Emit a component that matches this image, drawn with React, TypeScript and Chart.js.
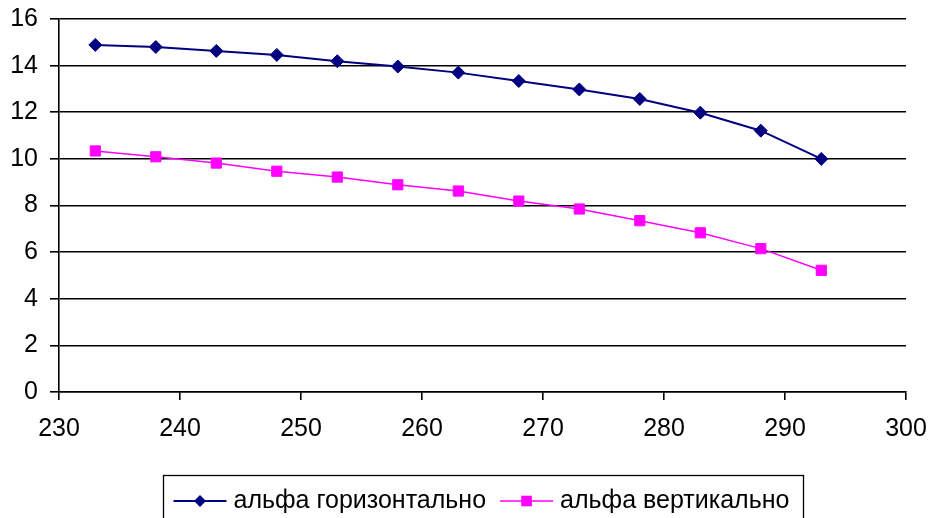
import React, { useEffect, useRef } from 'react';
import { Chart, registerables } from 'chart.js';

Chart.register(...registerables);

const temperatures = [233, 238, 243, 248, 253, 258, 263, 268, 273, 278, 283, 288, 293];
const alphaHorizontal = [14.89, 14.8, 14.63, 14.46, 14.19, 13.96, 13.7, 13.34, 12.98, 12.57, 11.98, 11.21, 10.0];
const alphaVertical = [10.34, 10.09, 9.82, 9.47, 9.22, 8.89, 8.62, 8.19, 7.85, 7.35, 6.83, 6.15, 5.22];
const seriesLabels = ['альфа горизонтально', 'альфа вертикально'];
const seriesColors = ['#000080', '#FF00FF'];
const xMin = 230;
const xMax = 300;
const xStep = 10;
const yMin = 0;
const yMax = 16;
const yStep = 2;

const FONT = '"Liberation Sans", Arial, sans-serif';

const boxedLegend = {
  id: 'boxedLegend',
  afterDraw(chart: any) {
    const ctx = chart.ctx as CanvasRenderingContext2D;
    ctx.save();
    ctx.font = `25px ${FONT}`;
    const sampleW = 53;
    const gapAfterSample = 7;
    const itemGap = 14;
    const padL = 10;
    const padR = 14;
    const widths = seriesLabels.map((t) => ctx.measureText(t).width);
    const total = padL + padR + widths.reduce((a, w) => a + sampleW + gapAfterSample + w, 0) + itemGap * (seriesLabels.length - 1);
    const left = 163.5;
    const top = 475.5;
    ctx.strokeStyle = '#000';
    ctx.lineWidth = 1.3;
    ctx.strokeRect(left, top, Math.round(total), 60);
    const cy = 501;
    let x = left + padL;
    seriesLabels.forEach((label, i) => {
      const color = seriesColors[i];
      ctx.strokeStyle = color;
      ctx.lineWidth = i === 0 ? 2 : 1.5;
      ctx.beginPath();
      ctx.moveTo(x, cy);
      ctx.lineTo(x + sampleW, cy);
      ctx.stroke();
      const mx = x + sampleW / 2;
      ctx.fillStyle = color;
      ctx.beginPath();
      if (i === 0) {
        const r = 6;
        ctx.moveTo(mx - r, cy);
        ctx.lineTo(mx, cy - r);
        ctx.lineTo(mx + r, cy);
        ctx.lineTo(mx, cy + r);
        ctx.closePath();
      } else {
        const s = 5.3;
        ctx.rect(mx - s, cy - s, 2 * s, 2 * s);
      }
      ctx.fill();
      x += sampleW + gapAfterSample;
      ctx.fillStyle = '#000';
      ctx.textBaseline = 'middle';
      ctx.textAlign = 'left';
      ctx.fillText(label, x, cy);
      x += widths[i] + itemGap;
    });
    ctx.restore();
  },
};

export default function App() {
  const canvasRef = useRef<HTMLCanvasElement | null>(null);

  useEffect(() => {
    const canvas = canvasRef.current;
    if (!canvas) return;
    const chart = new Chart(canvas, {
      type: 'line',
      data: {
        datasets: [
          {
            label: seriesLabels[0],
            data: temperatures.map((t, i) => ({ x: t, y: alphaHorizontal[i] })),
            borderColor: seriesColors[0],
            backgroundColor: seriesColors[0],
            borderWidth: 2,
            pointStyle: 'rectRot',
            pointRadius: 6.5,
            pointBorderWidth: 1,
            pointBackgroundColor: seriesColors[0],
            pointBorderColor: seriesColors[0],
            tension: 0,
          },
          {
            label: seriesLabels[1],
            data: temperatures.map((t, i) => ({ x: t, y: alphaVertical[i] })),
            borderColor: seriesColors[1],
            backgroundColor: seriesColors[1],
            borderWidth: 1.5,
            pointStyle: 'rect',
            pointRadius: 7.2,
            pointBorderWidth: 1,
            pointBackgroundColor: seriesColors[1],
            pointBorderColor: seriesColors[1],
            tension: 0,
          },
        ],
      },
      options: {
        responsive: false,
        animation: false,
        events: [],
        layout: { padding: { left: 0, top: 19, right: 25, bottom: 0 } },
        plugins: {
          legend: { display: false },
          tooltip: { enabled: false },
        },
        scales: {
          x: {
            type: 'linear',
            min: xMin,
            max: xMax,
            afterFit: (scale: any) => {
              scale.height = 126;
              scale.paddingLeft = 0;
              scale.paddingRight = 0;
              scale.paddingTop = 0;
              scale.paddingBottom = 0;
            },
            ticks: {
              stepSize: xStep,
              color: '#000',
              font: { family: FONT, size: 25, lineHeight: 1 },
              padding: 17,
              maxRotation: 0,
            },
            grid: {
              drawOnChartArea: false,
              drawTicks: true,
              tickLength: 8,
              color: '#000',
              lineWidth: 1.6,
            },
            border: { display: true, color: '#000', width: 1.6 },
          },
          y: {
            type: 'linear',
            min: yMin,
            max: yMax,
            afterFit: (scale: any) => {
              scale.width = 59;
              scale.paddingLeft = 0;
              scale.paddingRight = 0;
              scale.paddingTop = 0;
              scale.paddingBottom = 0;
            },
            ticks: {
              stepSize: yStep,
              color: '#000',
              font: { family: FONT, size: 25, lineHeight: 1 },
              padding: 12,
            },
            grid: {
              color: '#000',
              lineWidth: 1.6,
              tickLength: 9,
            },
            border: { display: true, color: '#000', width: 1.6 },
          },
        },
      },
      plugins: [boxedLegend],
    });
    return () => chart.destroy();
  }, []);

  return (
    <div style={{ position: 'fixed', left: 0, top: 0, width: 931, height: 518, background: '#fff' }}>
      <canvas ref={canvasRef} width={931} height={518} style={{ width: 931, height: 518, display: 'block' }} />
    </div>
  );
}
